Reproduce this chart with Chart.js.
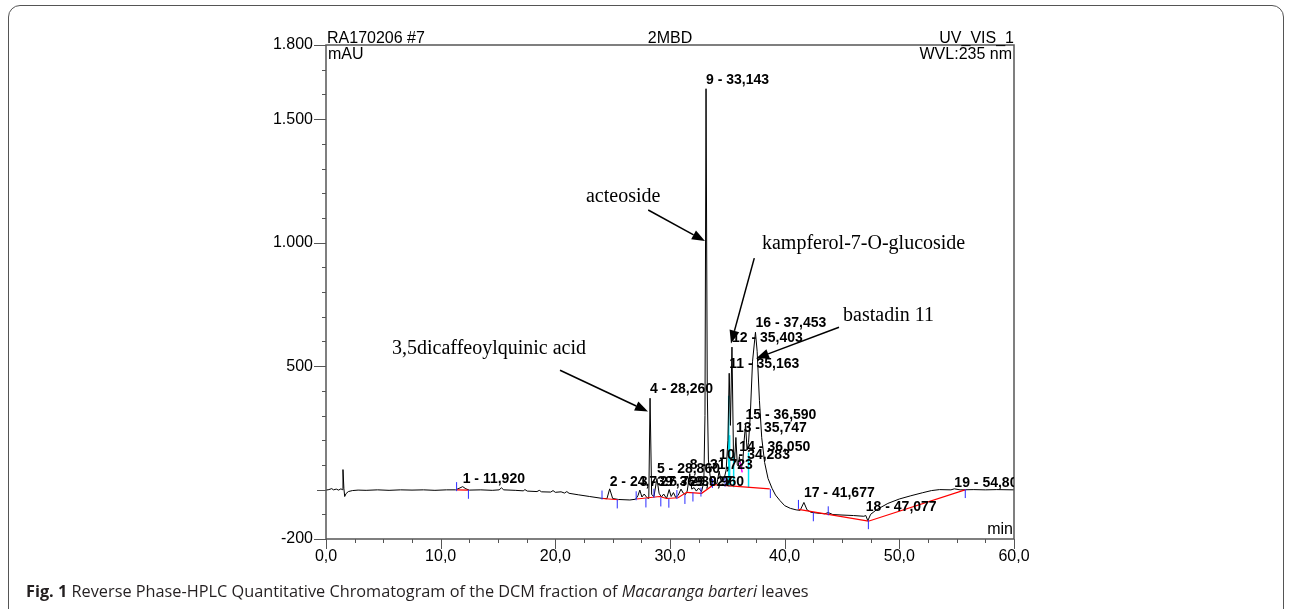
<!DOCTYPE html>
<html><head><meta charset="utf-8">
<script src="https://cdn.jsdelivr.net/npm/chart.js@4.4.1/dist/chart.umd.min.js"></script>
<style>
html,body{margin:0;padding:0;background:#fff;width:1290px;height:609px;overflow:hidden;}
#frame{position:absolute;left:8px;top:5px;width:1276px;height:640px;border:1.5px solid #555;border-radius:12px;box-sizing:border-box;}
#cap{position:absolute;left:26px;top:580px;font-family:"Open Sans";font-size:16.3px;line-height:22px;color:#231f20;white-space:nowrap;}
canvas{position:absolute;left:0;top:0;}
</style></head><body>
<div id="frame"></div>
<canvas id="c" width="1290" height="609"></canvas>
<div id="cap"><b>Fig. 1</b> Reverse Phase-HPLC Quantitative Chromatogram of the DCM fraction of <i>Macaranga barteri</i> leaves</div>
<script>
// ---- data (retention time in min, signal in mAU) ----
const xTickLabels = [0, 10, 20, 30, 40, 50, 60];
const yTickLabels = [-200, 500, 1000, 1500, 1800];

const traceT = [0,0.25,0.5,0.65,0.9,1.1,1.3,1.42,1.48,1.56,1.63,1.75,1.95,2.3,2.8,3.5,4.5,5.5,6.5,7.5,8.5,9.5,10.5,11.3,11.6,11.92,12.2,12.5,13.5,14.5,15.1,15.3,15.5,16.5,17.2,17.35,17.55,18.4,18.6,18.8,19.6,19.8,20.0,20.5,20.8,21.0,21.2,22.0,23.0,24.0,24.5,24.74,25.0,25.5,26.5,27.0,27.2,27.37,27.55,27.75,28.0,28.15,28.26,28.4,28.6,28.86,29.05,29.25,29.45,29.7,29.93,30.1,30.3,30.5,30.7,30.96,31.15,31.35,31.5,31.723,31.9,32.1,32.3,32.5,32.75,32.95,33.05,33.143,33.25,33.35,33.5,33.7,33.9,34.1,34.283,34.45,34.7,34.9,35.05,35.163,35.27,35.403,35.53,35.62,35.747,35.87,35.96,36.05,36.2,36.35,36.45,36.59,36.72,36.85,37.0,37.2,37.453,37.6,37.8,38.0,38.25,38.55,38.9,39.2,39.6,40.0,40.5,41.0,41.35,41.677,41.95,42.3,43.0,43.5,43.8,44.2,45.0,46.0,46.9,47.077,47.25,47.5,48.0,49.0,50.0,51.0,52.0,52.8,53.5,54.5,54.8,55.3,56.5,57.5,58.5,60];
const traceV = [-2,0,4,-1,2,-2,3,0,81,5,-28,-16,-8,-4,-2,-3,-1,-3,-1,-2,-1,-3,-1,-1,5,12,3,-2,-1,-3,-1,7,-1,-3,-5,0,-6,-8,-3,-9,-10,-4,-11,-9,-14,-8,-15,-21,-28,-35,-37,3,-36,-40,-42,-39,-25,-2,-30,-18,-33,-36,370,-20,-28,45,-15,-30,-18,-36,0,-28,-12,-32,-24,2,-14,-20,-6,65,2,8,-6,6,-8,30,300,1623,400,120,55,35,28,25,75,35,40,80,200,471,260,577,160,110,211,100,95,134,85,110,190,264,160,190,300,520,637,560,360,210,110,45,5,-22,-45,-65,-76,-82,-84,-52,-82,-92,-96,-98,-93,-101,-103,-105,-108,-105,-126,-100,-82,-56,-38,-25,-13,-4,0,-1,3,-1,0,-1,0,-1];

// integration baselines (null = break)
const baseT = [11.4,12.45,null,24.1,25.5,null,27.1,29.1,29.7,30.7,31.45,32.76,33.8,38.7,null,41.2,47.3,55.8];
const baseV = [-1,-2,null,-36,-41,null,-38,-28,-36,-33,-11,-15,20,3,null,-80,-128,0];

// peak delimiter marks
const markT = [11.39,12.42,24.07,25.4,27.05,27.9,28.6,29.2,29.9,30.6,31.3,32.0,32.7,33.7,34.8,38.75,41.2,42.5,43.8,47.3,55.75];
const markV = [12,-19,-22,-58,-25,-54,-15,-50,-55,-20,-40,-30,-10,25,30,-16,-60,-110,-86,-142,-16];

// drop lines in the peak cluster
const dropT = [35.12,35.12,null,35.2,35.2,null,35.55,35.55,null,36.85,36.85];
const dropV = [12,380,null,12,220,null,10,150,null,8,150];
const shoulderT = [36.1,36.3];
const shoulderV = [110,70];

// peak labels
const peakNum = [1,2,3,4,5,6,7,8,9,10,11,12,13,14,15,16,17,18,19];
const peakTime = [11.920,24.739,27.369,28.260,28.860,29.927,30.960,31.723,33.143,34.283,35.163,35.403,35.747,36.050,36.590,37.453,41.677,47.077,54.800];
const peakLabelV = [41,32,32,406,81,32,32,101,1659,138,507,613,247,170,300,673,-16,-69,28];

// compound annotations: text position and arrow (tail -> head)
const annText = ["acteoside","kampferol-7-O-glucoside","bastadin 11","3,5dicaffeoylquinic acid"];
const annTextT = [22.67,38.02,45.09,5.76];
const annTextV = [1185,994,702,572];
const annTailT = [28.1,37.35,44.74,20.41];
const annTailV = [1132,937,657,483];
const annHeadT = [33.05,35.32,37.5,28.08];
const annHeadV = [1006,592,531,316];

// ---- helpers ----
const pts = (T, V) => T.map((t, i) => ({x: t, y: V[i]}));
const fmtX = v => v.toFixed(1).replace('.', ',');
const fmtY = v => { const s = Math.abs(v).toString(); const g = s.length > 3 ? s.slice(0, s.length-3) + '.' + s.slice(-3) : s; return (v < 0 ? '-' : '') + g; };
const fmtT = t => t.toFixed(3).replace('.', ',');

const decor = {
  id: 'decor',
  afterDraw(chart) {
    const {ctx, chartArea: a, scales: {x, y}} = chart;
    ctx.save();
    ctx.strokeStyle = '#555'; ctx.lineWidth = 1.5;
    ctx.strokeRect(a.left, a.top, a.right - a.left, a.bottom - a.top);
    ctx.lineWidth = 1;
    ctx.beginPath();
    for (let t = 0; t <= 60.001; t += 2.5) {
      const px = Math.round(x.getPixelForValue(t)) + 0.5;
      const len = Math.abs(t % 10) < 1e-6 ? 10 : 4;
      ctx.moveTo(px, a.bottom); ctx.lineTo(px, a.bottom + len);
    }
    for (let v = -200; v <= 1800; v += 100) {
      const py = Math.round(y.getPixelForValue(v)) + 0.5;
      const len = yTickLabels.includes(v) ? 12 : (v === 0 ? 9 : 4);
      ctx.moveTo(a.left - len, py); ctx.lineTo(a.left, py);
    }
    ctx.stroke();

    // header texts
    ctx.fillStyle = '#000';
    ctx.font = '16px "Liberation Sans", Arial, sans-serif';
    ctx.textBaseline = 'alphabetic';
    ctx.textAlign = 'left'; ctx.fillText('RA170206 #7', a.left + 1, a.top - 2);
    ctx.textAlign = 'center'; ctx.fillText('2MBD', (a.left + a.right) / 2, a.top - 2);
    ctx.textAlign = 'right'; ctx.fillText('UV_VIS_1', a.right, a.top - 2);
    ctx.textBaseline = 'top';
    ctx.textAlign = 'left'; ctx.fillText('mAU', a.left + 2, a.top + 2);
    ctx.textAlign = 'right'; ctx.fillText('WVL:235 nm', a.right - 2, a.top + 2);
    ctx.textBaseline = 'bottom';
    ctx.fillText('min', a.right - 1, a.bottom - 1);

    // peak labels (clipped to plot)
    ctx.save();
    ctx.beginPath(); ctx.rect(a.left, a.top, a.right - a.left, a.bottom - a.top); ctx.clip();
    ctx.font = 'bold 14px "Liberation Sans", Arial, sans-serif';
    ctx.textAlign = 'left'; ctx.textBaseline = 'middle';
    peakNum.forEach((n, i) => {
      ctx.fillText(n + ' - ' + fmtT(peakTime[i]), x.getPixelForValue(peakTime[i]), y.getPixelForValue(peakLabelV[i]));
    });
    ctx.restore();

    // compound annotations
    ctx.font = '20px "Liberation Serif", "Times New Roman", serif';
    ctx.textAlign = 'left'; ctx.textBaseline = 'middle';
    ctx.strokeStyle = '#000'; ctx.fillStyle = '#000'; ctx.lineWidth = 1.5;
    annText.forEach((s, i) => {
      ctx.fillText(s, x.getPixelForValue(annTextT[i]), y.getPixelForValue(annTextV[i]));
      const x0 = x.getPixelForValue(annTailT[i]), y0 = y.getPixelForValue(annTailV[i]);
      const x1 = x.getPixelForValue(annHeadT[i]), y1 = y.getPixelForValue(annHeadV[i]);
      const ang = Math.atan2(y1 - y0, x1 - x0), L = 13, W = 5;
      const bx = x1 - L * Math.cos(ang), by = y1 - L * Math.sin(ang);
      ctx.beginPath(); ctx.moveTo(x0, y0); ctx.lineTo(bx, by); ctx.stroke();
      ctx.beginPath();
      ctx.moveTo(x1, y1);
      ctx.lineTo(bx + W * Math.sin(ang), by - W * Math.cos(ang));
      ctx.lineTo(bx - W * Math.sin(ang), by + W * Math.cos(ang));
      ctx.closePath(); ctx.fill();
    });
    ctx.restore();
  }
};

Chart.defaults.font.family = '"Liberation Sans", Arial, sans-serif';
new Chart(document.getElementById('c'), {
  type: 'scatter',
  data: {
    datasets: [
      {label: 'drop', data: pts(dropT, dropV), showLine: true, borderColor: '#00e0f0', borderWidth: 1.5, pointRadius: 0, spanGaps: false, order: 5},
      {label: 'trace', data: pts(traceT, traceV), showLine: true, borderColor: '#000', borderWidth: 1, pointRadius: 0, order: 4},
      {label: 'shoulder', data: pts(shoulderT, shoulderV), showLine: true, borderColor: '#ff00ff', borderWidth: 1.5, pointRadius: 0, order: 3},
      {label: 'baseline', data: pts(baseT, baseV), showLine: true, borderColor: '#ff0000', borderWidth: 1.2, pointRadius: 0, spanGaps: false, order: 2},
      {label: 'marks', data: pts(markT, markV), showLine: false, pointStyle: 'line', rotation: 90, pointRadius: 4.5, borderColor: '#2a2aff', borderWidth: 1, order: 1}
    ]
  },
  options: {
    responsive: false, animation: false, devicePixelRatio: 1,
    layout: {padding: {left: 266, right: 276, top: 45, bottom: 40}},
    plugins: {legend: {display: false}, tooltip: {enabled: false}},
    scales: {
      x: {
        type: 'linear', min: 0, max: 60,
        grid: {display: false, drawTicks: false}, border: {display: false},
        afterBuildTicks: s => { s.ticks = xTickLabels.map(v => ({value: v})); },
        afterFit: s => { s.height = 30; },
        ticks: {padding: 8, autoSkip: false, maxRotation: 0, color: '#000', font: {size: 16}, callback: v => fmtX(v)}
      },
      y: {
        type: 'linear', min: -200, max: 1800,
        grid: {display: false, drawTicks: false}, border: {display: false},
        afterBuildTicks: s => { s.ticks = yTickLabels.map(v => ({value: v})); },
        afterFit: s => { s.width = 60; },
        ticks: {padding: 13, autoSkip: false, color: '#000', font: {size: 16}, callback: v => fmtY(v)}
      }
    }
  },
  plugins: [decor]
});
</script>
</body></html>
